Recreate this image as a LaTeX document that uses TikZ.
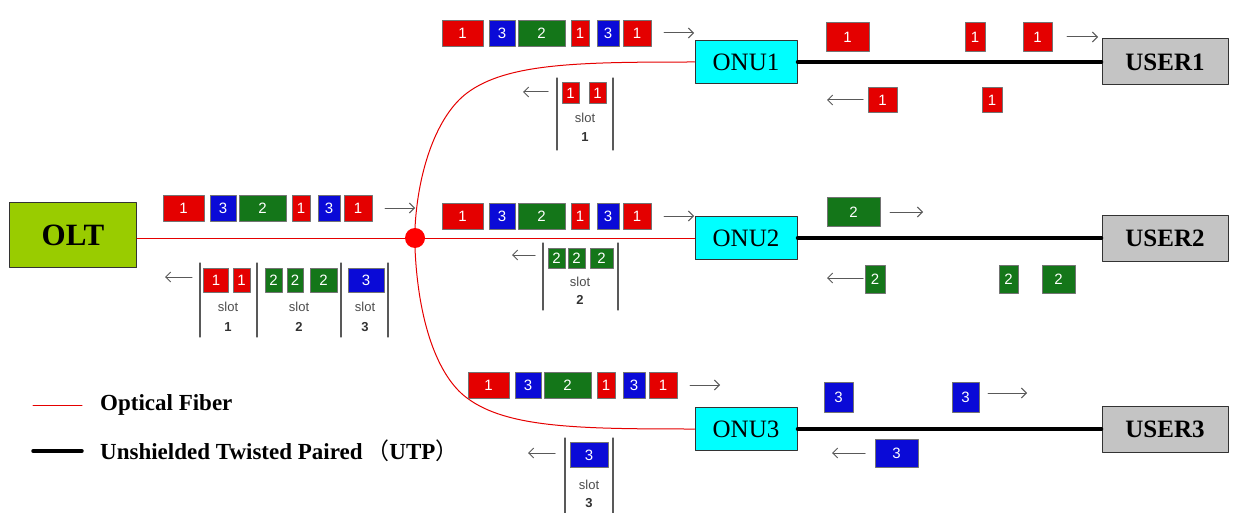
\documentclass[tikz,border=0pt]{standalone}
\usepackage{fontspec}
\setmainfont{Liberation Serif}
\setsansfont{Liberation Sans}
\newfontfamily\cjk{Noto Sans CJK SC}
\usetikzlibrary{positioning,arrows.meta}

\definecolor{oltgreen}{RGB}{153,204,0}
\definecolor{onucyan}{RGB}{0,255,255}
\definecolor{usergray}{RGB}{196,196,196}
\definecolor{fred}{RGB}{228,0,0}
\definecolor{fblue}{RGB}{10,10,215}
\definecolor{fgreen}{RGB}{20,118,25}

\newcommand\fs[1]{\fontsize{#1}{#1}\selectfont}

% downstream train of six frames, left edge at x=#2, centre line y=#3
\newcommand\train[3]{%
  \node[r,minimum width=41] (#1a) at (#2+20.5,#3) {1};
  \node[b,minimum width=26] (#1b) at (#2+60,#3) {3};
  \node[g,minimum width=47] (#1c) at (#2+99.5,#3) {2};
  \node[r,minimum width=18] (#1d) at (#2+138,#3) {1};
  \node[b,minimum width=22] (#1e) at (#2+166,#3) {3};
  \node[r,minimum width=28] (#1f) at (#2+195,#3) {1};
  \draw[arr] (#2+222,#3) -- (#2+252,#3);}

\begin{document}
\begin{tikzpicture}[x=1pt,y=-1pt,line join=round,line cap=round,>={Straight Barb[length=5pt,width=10pt]},
  box/.style={draw=black!80,line width=1pt,inner sep=0,minimum height=43},
  fr/.style={draw=black!55,line width=0.6pt,inner sep=0,minimum height=26,text=white,font=\sffamily\fs{15}},
  r/.style={fr,fill=fred},
  b/.style={fr,fill=fblue},
  g/.style={fr,fill=fgreen},
  fiber/.style={red!90!black,line width=1pt},
  utp/.style={line width=3.5pt},
  arr/.style={->,black!65,line width=1pt},
  slotlbl/.style={font=\sffamily\fs{13},text=black!70,inner sep=0},
  slotnum/.style={font=\sffamily\bfseries\fs{13},text=black!80,inner sep=0},
  bar/.style={black!65,line width=1.2pt}]
\useasboundingbox (0,0) rectangle (1233,513);

\node[box,fill=oltgreen,minimum width=127,minimum height=65,font=\bfseries\fs{31}] (olt) at (73,235) {OLT};
\node[circle,fill=red,inner sep=0,minimum size=20] (split) at (415,238) {};
\node[box,fill=onucyan,minimum width=102,font=\fs{25}] (onu1) at (746,62) {ONU1};
\node[box,fill=onucyan,minimum width=102,font=\fs{25}] (onu2) at (746,238) {ONU2};
\node[box,fill=onucyan,minimum width=102,font=\fs{25}] (onu3) at (746,429) {ONU3};
\node[box,fill=usergray,minimum width=126,minimum height=46,font=\bfseries\fs{25}] (user1) at (1165,62) {USER1};
\node[box,fill=usergray,minimum width=126,minimum height=46,font=\bfseries\fs{25}] (user2) at (1165,238) {USER2};
\node[box,fill=usergray,minimum width=126,minimum height=46,font=\bfseries\fs{25}] (user3) at (1165,429) {USER3};
\coordinate (bend1) at (467,93);
\coordinate (bend3) at (467,398);

\draw[fiber] (olt.east |- split) -- (split);
\draw[fiber] (split) -- (onu2);
\draw[fiber] (split.north) .. controls +(3,-58) and +(-30,22.5) .. (bend1)
  .. controls +(40,-30) and +(-115,0) .. (onu1.west);
\draw[fiber] (split.south) .. controls +(3,72) and +(-30,-22) .. (bend3)
  .. controls +(40,30) and +(-115,0) .. (onu3.west);
\draw[utp] (onu1) -- (user1);
\draw[utp] (onu2) -- (user2);
\draw[utp] (onu3) -- (user3);

\train{d}{163}{208}
\train{pa}{442}{33}
\train{pb}{442}{216}
\train{pc}{468}{385}

% upstream slots at the OLT
\draw[arr] (192,277) -- (165,277);
\foreach \x in {200,257,341,388} \draw[bar] (\x,263) -- (\x,337);
\node[r,minimum width=25,minimum height=24] (ua) at (216,280) {1};
\node[r,minimum width=17,minimum height=24] (ub) at (241.5,280) {1};
\node[g,minimum width=17,minimum height=24] (uc) at (273.5,280) {2};
\node[g,minimum width=16,minimum height=24] (ud) at (295,280) {2};
\node[g,minimum width=27,minimum height=24] (ue) at (323.5,280) {2};
\node[b,minimum width=36,minimum height=24] (uf) at (366,280) {3};
\node[slotlbl] (sa) at (228,307) {slot};
\node[slotnum] (na) at (228,327) {1};
\node[slotlbl] (sb) at (299,307) {slot};
\node[slotnum] (nb) at (299,327) {2};
\node[slotlbl] (sc) at (365,307) {slot};
\node[slotnum] (nc) at (365,327) {3};

% upstream slots at the ONUs
\draw[arr] (548,92) -- (523,92);
\draw[bar] (557,78) -- (557,150);
\draw[bar] (613,78) -- (613,150);
\node[r,minimum width=17,minimum height=21] (qa) at (570.5,93) {1};
\node[r,minimum width=17,minimum height=21] (qb) at (597.5,93) {1};
\node[slotlbl] (sd) at (585,118) {slot};
\node[slotnum] (nd) at (585,137) {1};

\draw[arr] (535,255) -- (512,255);
\draw[bar] (543,243) -- (543,310);
\draw[bar] (618,243) -- (618,310);
\node[g,minimum width=17,minimum height=20] (qc) at (556.5,258) {2};
\node[g,minimum width=17,minimum height=20] (qd) at (576.5,258) {2};
\node[g,minimum width=23,minimum height=20] (qe) at (601.5,258) {2};
\node[slotlbl] (se) at (580,282) {slot};
\node[slotnum] (ne) at (580,300) {2};

\draw[arr] (555,453) -- (528,453);
\draw[bar] (565,438) -- (565,513);
\draw[bar] (613,438) -- (613,513);
\node[b,minimum width=38,minimum height=25] (qf) at (589,455) {3};
\node[slotlbl] (sf) at (589,485) {slot};
\node[slotnum] (nf) at (589,503) {3};

% frames on the UTP side
\node[r,minimum width=43,minimum height=29] (ea) at (847.5,37) {1};
\node[r,minimum width=20,minimum height=29] (eb) at (975,37) {1};
\node[r,minimum width=29,minimum height=29] (ec) at (1037.5,37) {1};
\draw[arr] (1067,37) -- (1098,37);
\draw[arr] (863,100) -- (827,100);
\node[r,minimum width=29,minimum height=25] (ed) at (882.5,100) {1};
\node[r,minimum width=20,minimum height=25] (ee) at (992,100) {1};

\node[g,minimum width=53,minimum height=29] (fa) at (853.5,212) {2};
\draw[arr] (890,212) -- (923,212);
\draw[arr] (863,278) -- (827,278);
\node[g,minimum width=20,minimum height=28] (fb) at (875,279) {2};
\node[g,minimum width=19,minimum height=28] (fc) at (1008.5,279) {2};
\node[g,minimum width=33,minimum height=28] (fd) at (1058.5,279) {2};

\node[b,minimum width=29,minimum height=30] (ga) at (838.5,397) {3};
\node[b,minimum width=27,minimum height=30] (gb) at (965.5,397) {3};
\draw[arr] (988,393) -- (1027,393);
\draw[arr] (865,453) -- (832,453);
\node[b,minimum width=43,minimum height=28] (gc) at (896.5,453) {3};

% legend
\draw[fiber] (33,405) -- (82,405);
\node[right,inner sep=0,font=\bfseries\fs{23}] (lgf) at (100,405) {Optical Fiber};
\draw[utp] (33,451) -- (82,451);
\node[right,inner sep=0,font=\bfseries\fs{23}] (lgu) at (100,451) {Unshielded Twisted Paired\,{\cjk\mdseries （}UTP{\cjk\mdseries ）}};
\end{tikzpicture}
\end{document}
